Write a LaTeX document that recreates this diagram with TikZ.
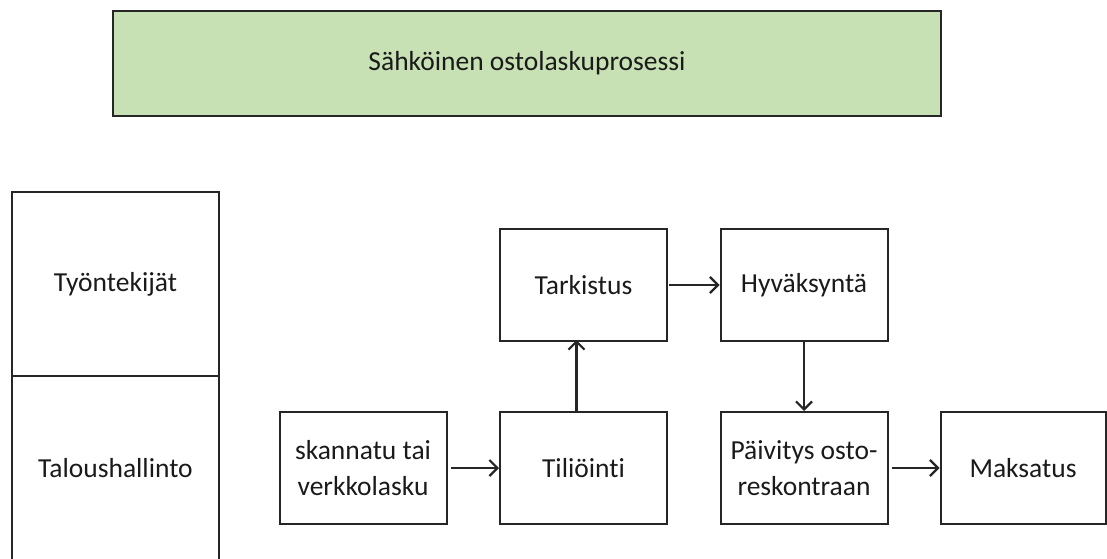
\documentclass[tikz,border=0pt]{standalone}
\usepackage{fontspec}
\setmainfont{Carlito}[Ligatures=NoCommon]
\usetikzlibrary{arrows.meta}
\definecolor{titlegreen}{HTML}{C7E0B4}
\definecolor{edge}{HTML}{262626}
\definecolor{ink}{HTML}{1A1A1A}
\begin{document}
\begin{tikzpicture}[x=1pt,y=-1pt,
  every node/.style={text=ink,font=\fontsize{27.5}{36}\selectfont},
  procbox/.style={draw=edge,line width=2pt,rectangle,inner sep=0pt,
    minimum width=167pt,minimum height=112pt,align=center},
  lanebox/.style={draw=edge,line width=2pt,rectangle,inner sep=0pt,
    minimum width=207pt,align=center},
  arr/.style={draw=edge,line width=2.2pt,-{Straight Barb[length=8pt,width=16pt,line width=2.2pt]}}]
\useasboundingbox (0,0) rectangle (1107,558);
\clip (0,0) rectangle (1107,558);

% heading
\node[draw=edge,line width=2pt,fill=titlegreen,rectangle,inner sep=0pt,
  minimum width=828pt,minimum height=105pt] (title) at (527,63) {Sähköinen ostolaskuprosessi};

% lanes on the left
\node[lanebox,minimum height=184pt] (lane1) at (115.5,284) {Työntekijät};
\node[lanebox,minimum height=200pt] (lane2) at (115.5,476) {};
\node (lane2label) at (115.5,468) {Taloushallinto};

% process steps
\node[procbox] (tark) at (583.5,285) {Tarkistus};
\node[procbox] (hyv)  at (804,285) {Hyväksyntä};
\node[procbox] (skan) at (363,468) {skannatu tai\\verkkolasku};
\node[procbox] (til)  at (583.5,468) {Tiliöinti};
\node[procbox] (paiv) at (804,468) {Päivitys osto-\\reskontraan};
\node[procbox,minimum width=165pt] (maks) at (1023,468) {Maksatus};

% flow
\draw[arr] ([xshift=3pt]skan.east) -- (til.west);
\draw[arr] ([xshift=-7pt]til.north) -- ([xshift=-7pt,yshift=2pt]tark.south);
\draw[arr] ([xshift=1pt]tark.east) -- (hyv.west);
\draw[arr] (hyv.south) -- (paiv.north);
\draw[arr] ([xshift=3pt]paiv.east) -- (maks.west);
\end{tikzpicture}
\end{document}
